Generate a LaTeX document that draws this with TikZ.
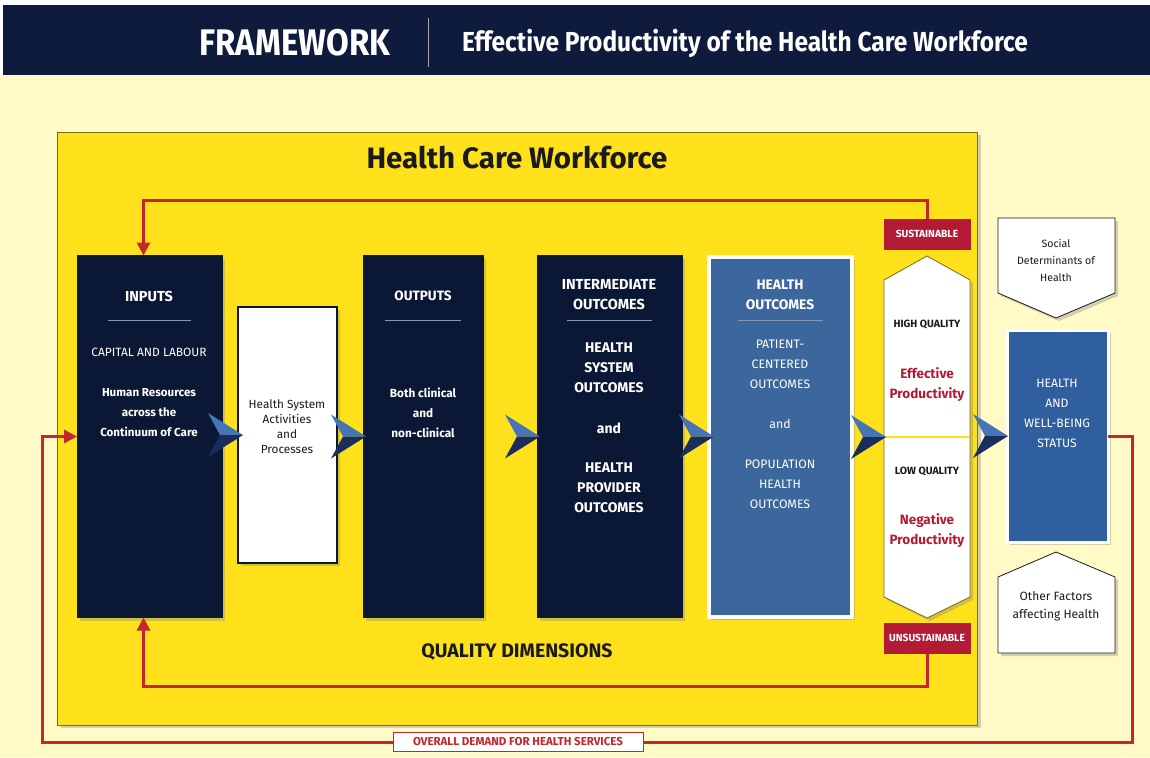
\documentclass[tikz,border=0pt]{standalone}
\usepackage{fontspec}
\setmainfont{Fira Sans}
\newfontfamily\hdrfont{Fira Sans}[FakeStretch=0.89]
\usetikzlibrary{shadows,calc,arrows.meta}
\definecolor{hdr}{HTML}{0E1B3C}
\definecolor{bgy}{HTML}{FFFAC6}
\definecolor{ybox}{HTML}{FFE11B}
\definecolor{ybord}{HTML}{7A6A1A}
\definecolor{navy}{HTML}{0B1835}
\definecolor{hblue}{HTML}{3B679C}
\definecolor{wblue}{HTML}{2F5F9E}
\definecolor{rline}{HTML}{C1272D}
\definecolor{rbox}{HTML}{B31B34}
\definecolor{chevl}{HTML}{4674B6}
\definecolor{chevd}{HTML}{1B2D5A}
\definecolor{txt}{HTML}{1A1A1A}
\definecolor{sepl}{HTML}{8A96B4}
\newcommand\fsz[2]{\fontsize{#1}{#2}\selectfont}
\newcommand\drawchev[1]{%
  \fill[chevl] ($(#1)+(-35,-22)$) -- (#1) -- ($(#1)+(-23,0)$) -- cycle;
  \fill[chevd] ($(#1)+(-35,22)$) -- (#1) -- ($(#1)+(-23,0)$) -- cycle;}
\tikzset{
  shd/.style={drop shadow={opacity=0.35,shadow xshift=3pt,shadow yshift=-3pt}},
  box/.style={inner sep=0pt,outer sep=0pt,shd},
  navybox/.style={box,fill=navy,draw=navy},
  wt/.style={text=white,align=center,inner sep=0pt},
  dt/.style={text=txt,align=center,inner sep=0pt},
  rt/.style={text=rbox,align=center,inner sep=0pt},
  sepline/.style={draw=sepl,line width=0.8pt},
  redline/.style={draw=rline,line width=3pt},
  redarrow/.style={redline,-{Triangle[width=13pt,length=13pt]}},
  tag/.style={fill=rbox,text=white,inner sep=0pt,outer sep=0pt,minimum width=87,minimum height=31,font=\bfseries\fsz{10.3}{11}},
}
\begin{document}
\begin{tikzpicture}[x=1pt,y=-1pt]
\useasboundingbox (0,0) rectangle (1150,757);
\fill[white] (0,0) rectangle (1150,757);
\fill[bgy] (0,75) rectangle (1150,757);
% header
\fill[hdr] (3,5) rectangle (1150,75);
\node[text=white,font=\hdrfont\bfseries\fsz{37}{37},inner sep=0pt] (fw) at (295,43) {FRAMEWORK};
\node[text=white,font=\hdrfont\bfseries\fsz{27.5}{28},inner sep=0pt] (sub) at (745,43) {Effective Productivity of the Health Care Workforce};
\draw[gray!70,line width=1pt] (428,18) -- (428,67);
% yellow workforce box
\node[box,fill=ybox,draw=ybord,line width=1pt,minimum width=920,minimum height=593] (hcw) at (517.5,428.5) {};
\node[dt,font=\bfseries\fsz{29.5}{30}] (hcwt) at (517,158) {Health Care Workforce};
\node[dt,font=\bfseries\fsz{19.5}{20}] (qd) at (517,652) {QUALITY DIMENSIONS};
% main boxes
\node[navybox,minimum width=145,minimum height=362] (inputs) at (149.5,436.5) {};
\node[box,fill=white,draw=navy,line width=1.5pt,minimum width=99,minimum height=256] (hsa) at (287.5,435) {};
\node[navybox,minimum width=120,minimum height=362] (outputs) at (423,436.5) {};
\node[navybox,minimum width=145,minimum height=362] (io) at (609.5,436.5) {};
\node[box,fill=hblue,draw=white,line width=4pt,minimum width=143,minimum height=360] (ho) at (780.5,436.5) {};
% hexagon
\path[fill=white,draw=ybord,line width=0.8pt,shd] (884,280) -- (927,256) -- (970,280) -- (970,597) -- (927,618) -- (884,597) -- cycle;
\draw[ybox,line width=2pt] (885,437) -- (969,437);
\coordinate (hexW) at (884,437);
\node[tag] (sus) at (927,234) {SUSTAINABLE};
\node[tag] (unsus) at (927,638) {UNSUSTAINABLE};
% right side
\path[fill=white,draw=txt,line width=0.8pt,shd] (998,218) -- (1115,218) -- (1115,293) -- (1056,318) -- (998,293) -- cycle;
\node[dt,font=\fsz{10.6}{17}] (soc) at (1056,260) {Social\\Determinants of\\Health};
\node[box,fill=wblue,draw=white,line width=3pt,minimum width=101,minimum height=212] (hwb) at (1057.5,436) {};
\path[fill=white,draw=txt,line width=0.8pt,shd] (1056,552) -- (1115,577) -- (1115,653) -- (998,653) -- (998,577) -- cycle;
\node[dt,font=\fsz{12}{18}] (oth) at (1056,606) {Other Factors\\affecting Health};
% texts inputs
\node[wt,font=\bfseries\fsz{14.5}{20}] (inT) at (149,296) {INPUTS};
\draw[sepline] (108,320) -- (191,320);
\node[wt,font=\fsz{12}{20}] (inC) at (149,352) {CAPITAL AND LABOUR};
\node[wt,font=\bfseries\fsz{11.6}{20}] (inH) at (149,413) {Human Resources\\across the\\Continuum of Care};
\node[dt,font=\fsz{11.8}{15}] (hsaT) at (287,427) {Health System\\Activities\\and\\Processes};
\node[wt,font=\bfseries\fsz{13.5}{20}] (outT) at (423,296) {OUTPUTS};
\draw[sepline] (385,320) -- (461,320);
\node[wt,font=\bfseries\fsz{11.8}{20}] (outB) at (423,413) {Both clinical\\and\\non-clinical};
\node[wt,font=\bfseries\fsz{14.5}{20}] (ioT) at (609,295) {INTERMEDIATE\\OUTCOMES};
\draw[sepline] (567,320) -- (652,320);
\node[wt,font=\bfseries\fsz{14}{20}] (ioA) at (609,368) {HEALTH\\SYSTEM\\OUTCOMES};
\node[wt,font=\bfseries\fsz{14}{20}] (ioB) at (609,428) {and};
\node[wt,font=\bfseries\fsz{14}{20}] (ioC) at (609,488) {HEALTH\\PROVIDER\\OUTCOMES};
\node[wt,font=\bfseries\fsz{13.8}{20}] (hoT) at (780,295) {HEALTH\\OUTCOMES};
\draw[sepline] (738,320) -- (823,320);
\node[wt,font=\fsz{12.3}{20}] (hoA) at (780,364) {PATIENT-\\CENTERED\\OUTCOMES};
\node[wt,font=\fsz{12.3}{20}] (hoB) at (780,424) {and};
\node[wt,font=\fsz{12.3}{20}] (hoC) at (780,484) {POPULATION\\HEALTH\\OUTCOMES};
\node[dt,font=\bfseries\fsz{10.5}{12}] (hq) at (927,325) {HIGH QUALITY};
\node[rt,font=\bfseries\fsz{13.5}{20}] (ep) at (927,385) {Effective\\Productivity};
\node[dt,font=\bfseries\fsz{10.5}{12}] (lq) at (927,472) {LOW QUALITY};
\node[rt,font=\bfseries\fsz{13.5}{20}] (np) at (927,531) {Negative\\Productivity};
\node[wt,font=\fsz{12.2}{20}] (hwbT) at (1057,413) {HEALTH\\AND\\WELL-BEING\\STATUS};
% chevrons
\coordinate (c1) at ($(hsa.west)+(5,0)$);
\coordinate (c2) at ($(outputs.west)+(3,0)$);
\coordinate (c3) at ($(io.west)+(3,0)$);
\coordinate (c4) at ($(ho.west)+(5,0)$);
\coordinate (c5) at ($(hexW)+(2,0)$);
\coordinate (c6) at ($(hwb.west)+(1,0)$);
\drawchev{c1}\drawchev{c2}\drawchev{c3}\drawchev{c4}\drawchev{c5}\drawchev{c6}
% feedback loops
\coordinate (topy) at (0,200);
\coordinate (boty) at (0,686);
\coordinate (inTop) at ($(inputs.north)+(-6,0)$);
\coordinate (inBot) at ($(inputs.south)+(-6,0)$);
\coordinate (oSE) at (1132,742);
\coordinate (oSW) at (42,742);
\draw[redarrow] (sus.north) -- (sus.north |- topy) -| (inTop);
\draw[redarrow] (unsus.south) -- (unsus.south |- boty) -| (inBot);
\draw[redarrow] (hwb.east) -| (oSE) -- (oSW) |- (inputs.west);
\node[fill=white,draw=rline,line width=1pt,text=rline,font=\bfseries\fsz{11.5}{12},minimum width=250,minimum height=19,inner sep=0pt] (dem) at (518,742) {OVERALL DEMAND FOR HEALTH SERVICES};
\end{tikzpicture}
\end{document}
